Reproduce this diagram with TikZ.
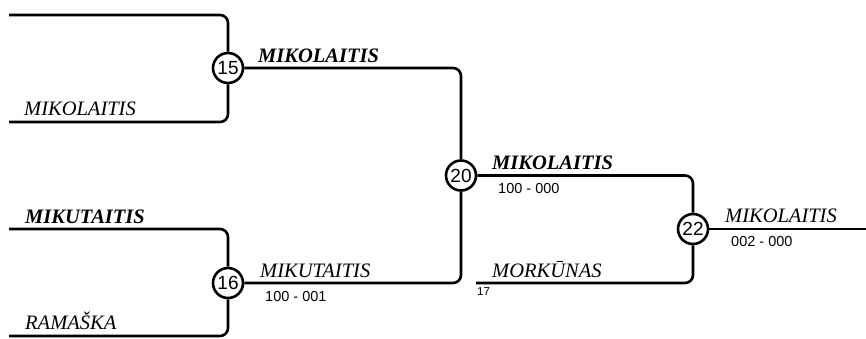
\documentclass[tikz,border=0pt]{standalone}
\usepackage{fontspec}
\setmainfont{Liberation Serif}
\setsansfont{Liberation Sans}
\usetikzlibrary{positioning}

\begin{document}
\begin{tikzpicture}[x=1pt,y=-1pt,
        game/.style={circle,draw,line width=2.6pt,minimum size=30pt,inner sep=0pt,fill=white,font=\sffamily\fontsize{19}{19}\selectfont},
        wire/.style={line width=2.6pt,rounded corners=8pt},
        player/.style={anchor=base west,inner sep=0pt,font=\itshape\fontsize{20.5}{24}\selectfont},
        winner/.style={anchor=base west,inner sep=0pt,font=\bfseries\itshape\fontsize{20.5}{24}\selectfont},
        score/.style={anchor=base west,inner sep=0pt,font=\sffamily\fontsize{14.5}{16}\selectfont}]
        \useasboundingbox (0,0) rectangle (866,338);
        \node[game] (G15) at (228,68) {15};
        \node[game] (G16) at (228,283) {16};
        \node[game] (G20) at (461,175.5) {20};
        \node[game] (G22) at (693,229) {22};
        \coordinate (A15) at (9,15);
        \coordinate (B15) at (9,122);
        \coordinate (A16) at (9,229);
        \coordinate (B16) at (9,336);
        \coordinate (B22) at (476,283);
        \coordinate (W22) at (866,229);
        \draw[wire] (A15) -| (G15);
        \draw[wire] (B15) -| (G15);
        \draw[wire] (A16) -| (G16);
        \draw[wire] (B16) -| (G16);
        \draw[wire] (G15) -| (G20);
        \draw[wire] (G16) -| (G20);
        \draw[wire] (G20) -| (G22);
        \draw[wire] (B22) -| (G22);
        \draw[wire] (G22) -- (W22);
        \node[player] (P15b) at (24,115.5) {MIKOLAITIS};
        \node[winner] (P16a) at (25,223) {MIKUTAITIS};
        \node[player] (P16b) at (25,329.5) {RAMAŠKA};
        \node[winner] (W15) at (258,62) {MIKOLAITIS};
        \node[player] (W16) at (260,277) {MIKUTAITIS};
        \node[score] (S16) at (265,301) {100 - 001};
        \node[winner] (W20) at (492,169.5) {MIKOLAITIS};
        \node[score] (S20) at (498,193) {100 - 000};
        \node[player] (P22b) at (492,277) {MORKŪNAS};
        \node[score,font=\sffamily\fontsize{11.5}{12}\selectfont] (N17) at (477,295) {17};
        \node[player] (W22t) at (725,222) {MIKOLAITIS};
        \node[score] (S22) at (731,246) {002 - 000};
    \end{tikzpicture}
\end{document}
